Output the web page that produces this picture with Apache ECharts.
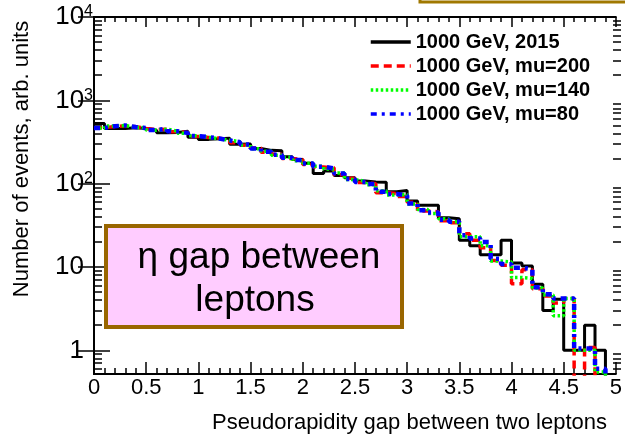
<!DOCTYPE html>
<html>
<head>
<meta charset="utf-8">
<script src="https://cdn.jsdelivr.net/npm/echarts@6/dist/echarts.min.js"></script>
<style>
  html, body { margin: 0; padding: 0; background: #ffffff; }
  #chart { width: 625px; height: 441px; }
</style>
</head>
<body>
<div id="chart"></div>
<script>
// Lower edges of the 0.1-wide bins in pseudorapidity gap, and the upper edge of the last bin
const binLow = [
  0.0, 0.1, 0.2, 0.3, 0.4, 0.5, 0.6, 0.7, 0.8, 0.9,
  1.0, 1.1, 1.2, 1.3, 1.4, 1.5, 1.6, 1.7, 1.8, 1.9,
  2.0, 2.1, 2.2, 2.3, 2.4, 2.5, 2.6, 2.7, 2.8, 2.9,
  3.0, 3.1, 3.2, 3.3, 3.4, 3.5, 3.6, 3.7, 3.8, 3.9,
  4.0, 4.1, 4.2, 4.3, 4.4, 4.5, 4.6, 4.7, 4.8, 4.9
];
const binHigh = 5.0;

const seriesNames = ['1000 GeV, 2015', '1000 GeV, mu=200', '1000 GeV, mu=140', '1000 GeV, mu=80'];

// Event counts per bin (arbitrary units)
const h2015 = [
  526, 458, 458, 470, 458, 437, 408, 412, 425, 360,
  340, 345, 352, 298, 300, 265, 251, 248, 210, 195,
  176, 132, 142, 125, 118, 108, 105, 104, 80, 83,
  62, 55, 55, 39, 38, 21, 18, 14, 14, 21,
  11.2, 10.3, 6.2, 3.0, 4.1, 1.0, 1.0, 2.0, 1.0, 0
];
const hMu200 = [
  470, 485, 495, 482, 460, 445, 450, 420, 410, 368,
  358, 352, 335, 310, 290, 268, 238, 225, 200, 195,
  170, 158, 155, 128, 116, 103, 100, 78, 76, 70,
  60, 47, 46, 36, 34, 25, 21, 17, 12.0, 10.5,
  6.3, 9.3, 5.5, 4.5, 3.7, 4.2, 0, 1.08, 0, 0
];
const hMu140 = [
  462, 492, 498, 475, 468, 438, 452, 428, 402, 375,
  360, 345, 332, 318, 292, 262, 245, 220, 208, 188,
  176, 162, 150, 134, 112, 107, 97, 82, 73, 74,
  57, 49, 44, 38, 35, 23, 23, 18, 11.8, 11.5,
  7.5, 7.3, 5.6, 4.6, 2.6, 4.2, 1.0, 1.0, 0.55, 0
];
const hMu80 = [
  466, 490, 500, 478, 465, 440, 455, 425, 405, 372,
  362, 348, 330, 315, 295, 265, 242, 222, 205, 192,
  174, 160, 152, 132, 114, 105, 99, 80, 75, 72,
  58, 48, 45, 37, 35, 24, 22, 20, 12.6, 10.8,
  9.8, 9.4, 5.7, 4.7, 4.2, 4.2, 1.05, 1.05, 0.6, 0
];

// Log-axis ticks
const yMajorTicks = [1, 10, 100, 1000, 10000];
const yMinorTicks = [
  0.6, 0.7, 0.8, 0.9,
  2, 3, 4, 5, 6, 7, 8, 9,
  20, 30, 40, 50, 60, 70, 80, 90,
  200, 300, 400, 500, 600, 700, 800, 900,
  2000, 3000, 4000, 5000, 6000, 7000, 8000, 9000
];

const FONT = '"Liberation Sans", Arial, Helvetica, sans-serif';
const EMPTY_FLOOR = 1e-3; // empty bins fall below the visible log range

// Histogram outline: one point per lower edge, plus the closing upper edge
function histSteps(values) {
  const pts = binLow.map((x, i) => [x, values[i] > 0 ? values[i] : EMPTY_FLOOR]);
  const last = values[values.length - 1];
  pts.push([binHigh, last > 0 ? last : EMPTY_FLOOR]);
  return pts;
}

const gridBox = { left: 94, right: 4, top: 17, bottom: 67 };
const axisLineStyle = { show: true, lineStyle: { color: '#000', width: 2 } };

function xAxisDef(position, major, minor, labels) {
  return {
    gridIndex: 0, type: 'value', min: 0, max: 5, interval: 0.5, position: position,
    axisLine: axisLineStyle,
    axisTick: { show: true, inside: true, length: major, lineStyle: { color: '#000', width: 1.5 } },
    minorTick: { show: true, splitNumber: 5, length: minor, lineStyle: { color: '#000', width: 1.5 } },
    splitLine: { show: false }, minorSplitLine: { show: false },
    axisLabel: labels ? {
      show: true, margin: 3, color: '#000', fontFamily: FONT, fontSize: 22,
      showMinLabel: true, showMaxLabel: true, hideOverlap: false
    } : { show: false }
  };
}

function yAxisDef(gridIndex, position, ticks, len, labels) {
  return {
    gridIndex: gridIndex, type: 'log', logBase: 10, min: 0.52, max: 10000, position: position,
    axisLine: gridIndex === 0 ? axisLineStyle : { show: false },
    axisTick: { show: true, inside: true, length: len, customValues: ticks,
                lineStyle: { color: '#000', width: 1.5 } },
    minorTick: { show: false },
    splitLine: { show: false },
    axisLabel: labels ? {
      show: true, margin: 1, customValues: ticks,
      formatter: function (v) {
        if (v < 5) return '{b|1}{pad|}';
        if (v < 50) return '{b|10}{pad|}';
        return '{b|10}{s|' + Math.round(Math.log10(v)) + '}';
      },
      rich: {
        b: { fontFamily: FONT, fontSize: 26, color: '#000', verticalAlign: 'bottom', lineHeight: 26 },
        s: { fontFamily: FONT, fontSize: 16, color: '#000', verticalAlign: 'top', lineHeight: 16, padding: [0, 0, 12, 0] },
        pad: { width: 9 }
      }
    } : { show: false }
  };
}

const styles = [
  { color: '#000000', width: 3, type: 'solid' },
  { color: '#ff0000', width: 3.5, type: [8, 5] },
  { color: '#00ff00', width: 3.5, type: [2.5, 2.5] },
  { color: '#0000ff', width: 4.5, type: [6, 5, 3, 5] }
];
const histograms = [h2015, hMu200, hMu140, hMu80];

const lineSeries = histograms.map((h, k) => ({
  type: 'line', name: seriesNames[k], xAxisIndex: 0, yAxisIndex: 0,
  step: 'end', symbol: 'none', clip: true,
  data: histSteps(h),
  itemStyle: { color: styles[k].color },
  lineStyle: { color: styles[k].color, width: styles[k].width, type: styles[k].type, cap: 'butt' }
}));

const chart = echarts.init(document.getElementById('chart'), null, { renderer: 'canvas' });
chart.setOption({
  animation: false,
  backgroundColor: '#ffffff',
  grid: [Object.assign({}, gridBox), Object.assign({}, gridBox)],
  xAxis: [
    xAxisDef('bottom', 12, 6, true),
    xAxisDef('top', 10, 5, false),
    { gridIndex: 1, type: 'value', min: 0, max: 5, show: false }
  ],
  yAxis: [
    yAxisDef(0, 'left', yMajorTicks, 16, true),
    yAxisDef(0, 'right', yMajorTicks, 16, false),
    yAxisDef(1, 'left', yMinorTicks, 8, false),
    yAxisDef(1, 'right', yMinorTicks, 8, false)
  ],
  legend: {
    orient: 'vertical', left: 369, top: 32, padding: 0,
    itemWidth: 40, itemHeight: 14, itemGap: 4,
    itemStyle: { opacity: 0 },
    data: seriesNames.map((n, k) => ({
      name: n,
      lineStyle: { width: 3.5, type: styles[k].type, color: styles[k].color }
    })),
    textStyle: { fontFamily: FONT, fontWeight: 'bold', fontSize: 20, color: '#000', lineHeight: 20 }
  },
  graphic: [
    { type: 'rect', shape: { x: 420, y: -40, width: 230, height: 42 },
      style: { fill: 'none', stroke: '#a07800', lineWidth: 3 }, z: 10 },
    { type: 'rect', shape: { x: 106, y: 226, width: 296, height: 101 },
      style: { fill: '#ffccff', stroke: '#996600', lineWidth: 4 }, z: 10 },
    { type: 'text', x: 259, y: 258, z: 11,
      style: { text: 'η gap between', fontFamily: FONT, fontSize: 37, fill: '#000',
               align: 'center', verticalAlign: 'middle', textAlign: 'center', textVerticalAlign: 'middle' } },
    { type: 'text', x: 255, y: 301, z: 11,
      style: { text: 'leptons', fontFamily: FONT, fontSize: 37, fill: '#000',
               align: 'center', verticalAlign: 'middle', textAlign: 'center', textVerticalAlign: 'middle' } },
    { type: 'text', x: 22, y: 159, rotation: Math.PI / 2, z: 11,
      style: { text: 'Number of events, arb. units', fontFamily: FONT, fontSize: 22, fill: '#000',
               align: 'center', verticalAlign: 'middle', textAlign: 'center', textVerticalAlign: 'middle' } },
    { type: 'text', x: 607, y: 423, z: 11,
      style: { text: 'Pseudorapidity gap between two leptons', fontFamily: FONT, fontSize: 22, fill: '#000',
               align: 'right', verticalAlign: 'middle', textAlign: 'right', textVerticalAlign: 'middle' } }
  ],
  series: lineSeries
});
</script>
</body>
</html>
